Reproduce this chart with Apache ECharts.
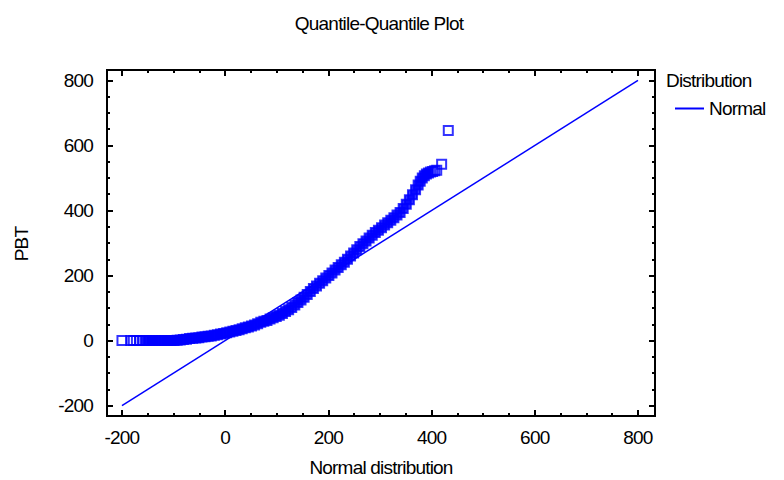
<!DOCTYPE html>
<html><head><meta charset="utf-8">
<script src="https://cdn.jsdelivr.net/npm/echarts@6.0.0/dist/echarts.min.js"></script>
<style>
html,body{margin:0;padding:0;background:#fff}
#chart{width:784px;height:480px}
#chart text{letter-spacing:-0.8px}
</style>
</head><body><div id="chart"></div>
<script>
// Sample quantiles (y) against fitted normal quantiles (x)
const qqX = [-200,-183,-178,-172,-166,-159,-153,-147,-141,-135,-129,-123,-117,-111,-105,-99,
  -93,-87,-81,-75,-69,-63,-57,-51,-45,-39,-33,-27,-21,-15,-9,-3,
  3,9,15,21,27,33,39,45,51,57,63,69,75,81,87,93,99,105,111,117,123,129,135,141,147,153,159,165,171,177,
  183,189,195,201,207,213,219,225,231,237,243,249,255,261,267,273,279,285,291,297,303,309,315,321,327,333,
  339,345,351,357,363,369,374,378,382,386,390,394,398,402,406,410,419.5,432.4];
const qqY = [0,0,0,0,0,0,0,0,0,0,0,0,0,0,0,0,
  1,2,3,4,6,7,8,9,11,12,13,14,16,18,20,22,
  24,26,29,31,33,36,39,42,45,48,52,56,59,62,66,70,74,78,83,89,95,102,109,117,125,133,142,151,160,168,
  176,184,192,200,208,217,225,233,241,250,260,269,279,289,298,306,315,324,332,339,347,355,362,370,378,386,
  394,406,419,433,448,464,478,490,500,507,512,515,518,520,522,524,542,646];
// Reference line of the fitted normal distribution
const lineX = [-200, 800];
const lineY = [-200, 800];
// Axis ticks
const xMajor = [-200, 0, 200, 400, 600, 800];
const yMajor = [-200, 0, 200, 400, 600, 800];
const xMinor = [-200,-150,-100,-50,0,50,100,150,200,250,300,350,400,450,500,550,600,650,700,750,800];
const yMinor = [-200,-150,-100,-50,0,50,100,150,200,250,300,350,400,450,500,550,600,650,700,750,800];

const FONT = '"Liberation Sans", Arial, sans-serif';
const BLUE = '#0000ff';
const FS = 19;

const chart = echarts.init(document.getElementById('chart'), null, {renderer: 'svg'});

const points = qqX.map((x, i) => {
  const hollow = i < 6 || x >= 398;
  return {
    value: [x, qqY[i]],
    itemStyle: {color: hollow ? 'rgba(0,0,0,0)' : BLUE, borderColor: BLUE, borderWidth: 2}
  };
});

function axis(kind, pos, ticks, len, labels) {
  const isX = kind === 'x';
  return {
    type: 'value',
    position: pos,
    min: isX ? -229 : -232,
    max: isX ? 833 : 832,
    splitLine: {show: false},
    axisLine: {show: false, onZero: false},
    axisTick: {show: true, inside: true, length: len, customValues: ticks,
      lineStyle: {color: '#000', width: 2}},
    axisLabel: labels ? {show: true, customValues: ticks, margin: isX ? 12 : 14,
      color: '#000', fontFamily: FONT, fontSize: FS} : {show: false}
  };
}

chart.setOption({
  animation: false,
  backgroundColor: '#fff',
  title: {
    text: 'Quantile-Quantile Plot', left: 379, top: 14, textAlign: 'center', padding: 0,
    textStyle: {fontFamily: FONT, fontSize: FS, fontWeight: 'normal', color: '#000'}
  },
  legend: {
    data: ['Normal'], left: 675, top: 99, padding: 0, icon: 'rect',
    itemWidth: 29, itemHeight: 2, itemGap: 5,
    textStyle: {fontFamily: FONT, fontSize: FS, color: '#000'}
  },
  grid: {left: 107, right: 129, top: 70, bottom: 64, show: true, borderColor: '#000', borderWidth: 2,
    backgroundColor: 'transparent', outerBoundsMode: 'none'},
  xAxis: [
    axis('x', 'bottom', xMajor, 6, true),
    axis('x', 'bottom', xMinor, 3, false),
    axis('x', 'top', xMajor, 6, false),
    axis('x', 'top', xMinor, 3, false)
  ],
  yAxis: [
    axis('y', 'left', yMajor, 6, true),
    axis('y', 'left', yMinor, 3, false),
    axis('y', 'right', yMajor, 6, false),
    axis('y', 'right', yMinor, 3, false)
  ],
  graphic: [
    {type: 'text', x: 666, y: 80, style: {text: 'Distribution', fontFamily: FONT, fontSize: FS,
      fill: '#000', align: 'left', verticalAlign: 'middle'}},
    {type: 'text', x: 381, y: 467, style: {text: 'Normal distribution', fontFamily: FONT, fontSize: FS,
      fill: '#000', align: 'center', verticalAlign: 'middle'}},
    {type: 'text', x: 21, y: 244, rotation: Math.PI / 2, style: {text: 'PBT', fontFamily: FONT, fontSize: FS,
      fill: '#000', align: 'center', verticalAlign: 'middle'}}
  ],
  series: [
    {
      name: 'Normal', type: 'line', xAxisIndex: 0, yAxisIndex: 0,
      data: lineX.map((x, i) => [x, lineY[i]]),
      showSymbol: false, symbol: 'none',
      lineStyle: {color: BLUE, width: 1.5}, itemStyle: {color: BLUE}, z: 2
    },
    {
      name: 'PBT', type: 'scatter', xAxisIndex: 0, yAxisIndex: 0,
      symbol: 'rect', symbolSize: 9, data: points, z: 3
    }
  ]
});
</script></body></html>
